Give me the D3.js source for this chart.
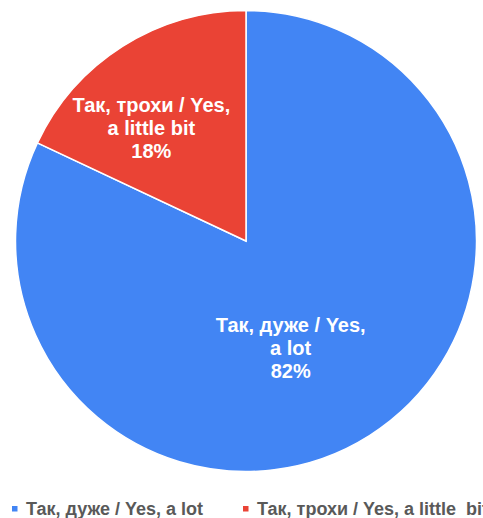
<!DOCTYPE html>
<html>
<head>
<meta charset="utf-8">
<script src="https://cdn.jsdelivr.net/npm/d3@7"></script>
<style>
  html, body { margin: 0; padding: 0; background: #fff; overflow: hidden; }
  svg { display: block; }
</style>
</head>
<body>
<svg id="chart" width="483" height="518"></svg>
<script>
// Survey answers and their shares (%)
const categories = ["Так, дуже / Yes, a lot", "Так, трохи / Yes, a little  bit"];
const sliceLabels = [["Так, дуже / Yes,", "a lot"], ["Так, трохи / Yes,", "a little bit"]];
const values = [82, 18];
const colors = ["#4285f4", "#ea4335"];

const svg = d3.select("#chart");
const font = "'Liberation Sans', Arial, sans-serif";

const cx = 246, cy = 241, radius = 230.5;

// Slices run clockwise from 12 o'clock in data order
const pie = d3.pie().sort(null).value(d => d);
const arcs = pie(values);
const arc = d3.arc().innerRadius(0).outerRadius(radius);

const g = svg.append("g").attr("transform", `translate(${cx},${cy})`);

g.selectAll("path.slice")
  .data(arcs)
  .join("path")
  .attr("class", "slice")
  .attr("d", arc)
  .attr("fill", (d, i) => colors[i])
  .attr("stroke", "#fff")
  .attr("stroke-width", 1.5);

// Labels inside each slice: name lines followed by percentage
const labelRadius = 130;
const labelShiftX = -25;
arcs.forEach((d, i) => {
  const a = (d.startAngle + d.endAngle) / 2;
  const x = Math.sin(a) * labelRadius + labelShiftX;
  const y = -Math.cos(a) * labelRadius;
  const lines = sliceLabels[i].concat([values[i] + "%"]);
  const t = g.append("text")
    .attr("text-anchor", "middle")
    .attr("font-family", font)
    .attr("font-weight", "bold")
    .attr("font-size", 20)
    .attr("fill", "#fff");
  lines.forEach((ln, k) => {
    t.append("tspan")
      .attr("x", x)
      .attr("y", y + (k - 1) * 23 + 4)
      .text(ln);
  });
});

// Legend along the bottom (the second entry runs past the right edge)
const legend = svg.append("g").attr("transform", "translate(0,515)");
const legendX = [12, 243];
categories.forEach((c, i) => {
  const item = legend.append("g").attr("transform", `translate(${legendX[i]},0)`);
  item.append("rect")
    .attr("x", 0).attr("y", -9)
    .attr("width", 5.5).attr("height", 5.5)
    .attr("fill", colors[i]);
  item.append("text")
    .attr("x", 14).attr("y", 0)
    .attr("font-family", font)
    .attr("font-weight", "bold")
    .attr("font-size", 18)
    .attr("fill", "#595959")
    .attr("xml:space", "preserve")
    .style("white-space", "pre")
    .text(c);
});
</script>
</body>
</html>
